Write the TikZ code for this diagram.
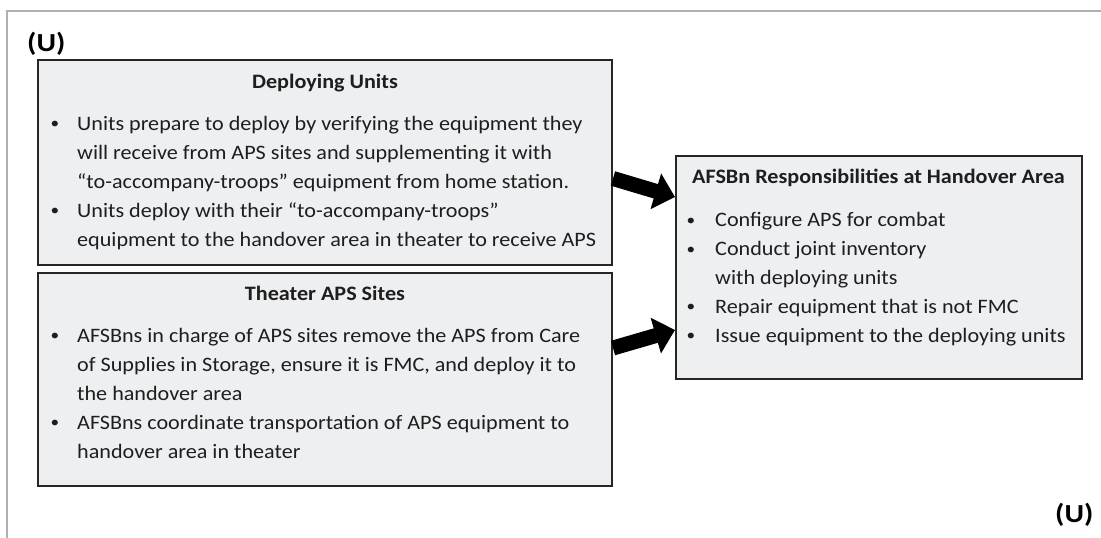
\documentclass[tikz,border=0pt]{standalone}
\usepackage{fontspec}
\setmainfont{Carlito}
\newfontfamily\boxfont{Carlito}[FakeStretch=1.08]
\newfontfamily\ufont{Carlito}[FakeStretch=1.15]
\usetikzlibrary{arrows.meta,calc}
\definecolor{boxfill}{RGB}{238,239,241}
\definecolor{txt}{RGB}{30,30,30}
\definecolor{frame}{RGB}{175,175,175}
\tikzset{
  panel/.style={draw=black!85,line width=2pt,fill=boxfill,inner sep=0pt},
  ttl/.style={font=\boxfont\fontsize{20.5}{29}\selectfont\bfseries,text=txt,inner sep=0pt,anchor=base},
  body/.style={font=\boxfont\fontsize{20.5}{29}\selectfont,text=txt,inner sep=0pt,align=left,anchor=base west},
  rbody/.style={font=\boxfont\fontsize{20.5}{28.8}\selectfont,text=txt,inner sep=0pt,align=left,anchor=base west},
  bul/.style={font=\boxfont\fontsize{16}{29}\selectfont,text=txt,inner sep=0pt,anchor=base},
  bigarrow/.style={line width=15pt,-{Triangle[length=20pt,width=36pt]},black},
  umark/.style={font=\ufont\fontsize{26}{30}\selectfont\bfseries,text=black,inner sep=0pt,anchor=base west}
}
\begin{document}
\begin{tikzpicture}[x=1pt,y=-1pt]
\useasboundingbox (0,0) rectangle (1101,538);
\coordinate (fl) at (7,538);
\coordinate (fc) at (7,11);
\coordinate (fr) at (1101,11);
\draw[frame,line width=1.2pt] (fl) -- (fc) -- (fr);
\node[umark] (u1) at (27,51) {(U)};
\node[umark] (u2) at (1055,522) {(U)};
% boxes
\node[panel,minimum width=574pt,minimum height=205pt] (du) at (325,162.5) {};
\node[panel,minimum width=574pt,minimum height=213pt] (ta) at (325,379.5) {};
\node[panel,minimum width=406pt,minimum height=223pt] (af) at (879,267.5) {};
% titles
\node[ttl] (dut) at (325,88) {Deploying Units};
\node[ttl] (tat) at (325,300) {Theater APS Sites};
\node[ttl] (aft) at (878.5,183) {AFSBn Responsibilities at Handover Area};
% deploying text
\node[body] (dub) at (77,246) {Units prepare to deploy by verifying the equipment they\\will receive from APS sites and supplementing it with\\“to-accompany-troops” equipment from home station.\\Units deploy with their “to-accompany-troops”\\equipment to the handover area in theater to receive APS};
\node[bul] (dub1) at (55,128) {•};
\node[bul] (dub2) at (55,215) {•};
% theater text
\node[body] (tab) at (77,458) {AFSBns in charge of APS sites remove the APS from Care\\of Supplies in Storage, ensure it is FMC, and deploy it to\\the handover area\\AFSBns coordinate transportation of APS equipment to\\handover area in theater};
\node[bul] (tab1) at (55,340) {•};
\node[bul] (tab2) at (55,427) {•};
% afsbn text
\node[rbody] (afb) at (715,342) {Configure APS for combat\\Conduct joint inventory\\with deploying units\\Repair equipment that is not FMC\\Issue equipment to the deploying units};
\node[bul] (afb1) at (691,225) {•};
\node[bul] (afb2) at (691,254) {•};
\node[bul] (afb3) at (691,311.5) {•};
\node[bul] (afb4) at (691,340) {•};
% arrows
\draw[bigarrow] ($(du.east)+(0,16)$) -- ($(af.west)+(0,-70.5)$);
\draw[bigarrow] ($(ta.east)+(0,-31.5)$) -- ($(af.west)+(0,62.5)$);
\end{tikzpicture}
\end{document}
